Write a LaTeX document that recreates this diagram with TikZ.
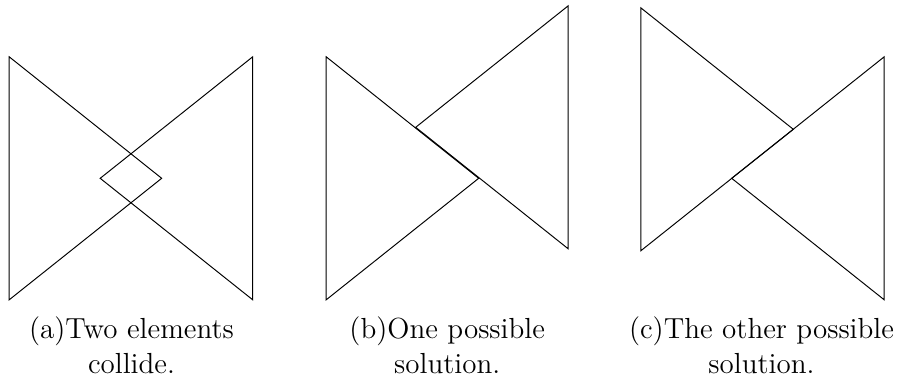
\documentclass[tikz,border=0pt]{standalone}
\begin{document}
\begin{tikzpicture}[x=0.4132pt,y=-0.4132pt,
  tri/.style={draw=black,line width=0.4pt,line join=miter},
  capt/.style={align=center,font=\fontsize{12}{14.5}\selectfont,inner sep=0pt,anchor=base}]
\useasboundingbox (0,0) rectangle (902,381);
% panel (a)
\coordinate (aLt) at (9.2,56.8);   \coordinate (aLb) at (9.2,299.8);   \coordinate (aLa) at (161.7,178.3);
\coordinate (aRt) at (252.7,56.8); \coordinate (aRb) at (252.7,299.8); \coordinate (aRa) at (100.2,178.3);
\draw[tri] (aLt) -- (aLb) -- (aLa) -- cycle;
\draw[tri] (aRt) -- (aRb) -- (aRa) -- cycle;
% panel (b)
\coordinate (bLt) at (326.2,56.8); \coordinate (bLb) at (326.2,299.8); \coordinate (bLa) at (478.7,178.3);
\coordinate (bRt) at (568.2,5.8);  \coordinate (bRb) at (568.2,248.8); \coordinate (bRa) at (415.7,127.3);
\draw[tri] (bLt) -- (bLb) -- (bLa) -- cycle;
\draw[tri] (bRt) -- (bRb) -- (bRa) -- cycle;
% panel (c)
\coordinate (cLt) at (640.8,7.8);  \coordinate (cLb) at (640.8,250.8); \coordinate (cLa) at (793.3,129.3);
\coordinate (cRt) at (884.2,56.8); \coordinate (cRb) at (884.2,299.8); \coordinate (cRa) at (731.7,178.3);
\draw[tri] (cLt) -- (cLb) -- (cLa) -- cycle;
\draw[tri] (cRt) -- (cRb) -- (cRa) -- cycle;
% captions
\node[capt] (capa) at (131.5,373.3) {(a)Two elements\\collide.};
\node[capt] (capb) at (447.2,373.3) {(b)One possible\\solution.};
\node[capt] (capc) at (761.5,373.3) {(c)The other possible\\solution.};
\end{tikzpicture}
\end{document}
